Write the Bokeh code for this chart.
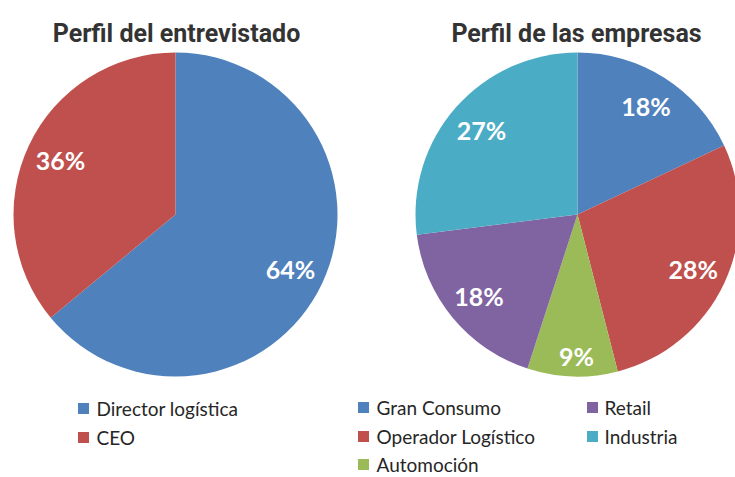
import numpy as np
from bokeh.plotting import figure
from bokeh.models import Range1d
from bokeh.embed import file_html
from bokeh.resources import INLINE
from bokeh.core.properties import value

# ---- data ----
left_title = "Perfil del entrevistado"
left_categories = ["Director logística", "CEO"]
left_values = [64, 36]

right_title = "Perfil de las empresas"
right_categories = ["Gran Consumo", "Operador Logístico", "Automoción", "Retail", "Industria"]
right_values = [18, 28, 9, 18, 27]

left_colors = ["#4F81BD", "#C0504D"]
right_colors = ["#4F81BD", "#C0504D", "#9BBB59", "#8064A2", "#4BACC6"]

# ---- layout (screen pixel coordinates) ----
W, H = 735, 477


def sy(y):
    return H - y


p = figure(width=W, height=H, x_range=Range1d(0, W), y_range=Range1d(0, H),
           output_backend="svg", toolbar_location=None, min_border=0)
p.axis.visible = False
p.grid.visible = False
p.outline_line_color = None
p.background_fill_color = "white"
p.border_fill_color = "white"


def pie(cx, cy, r, values, colors, label_r, nudges):
    vals = np.array(values, dtype=float)
    frac = vals / vals.sum()
    ends = np.cumsum(frac)
    starts = ends - frac
    sa = np.pi / 2 - 2 * np.pi * starts
    ea = np.pi / 2 - 2 * np.pi * ends
    p.wedge(x=cx, y=sy(cy), radius=r, start_angle=list(sa), end_angle=list(ea),
            direction="clock", fill_color=colors, line_color=None)
    mid = np.pi / 2 - 2 * np.pi * (starts + frac / 2)
    lx = cx + label_r * np.cos(mid) + np.array([n[0] for n in nudges])
    ly = sy(cy) + label_r * np.sin(mid) - np.array([n[1] for n in nudges])
    p.text(x=list(lx), y=list(ly), text=[f"{int(v)}%" for v in values],
           text_color="white", text_font=value("Lato"), text_font_style="bold",
           text_font_size="25px", text_align="center", text_baseline="middle")


pie(175, 214, 162, left_values, left_colors, 127, [(0, 0), (0, 0)])
pie(577, 214, 162, right_values, right_colors, 128,
    [(0, 0), (0, 0), (3, 14), (0, 0), (0, 0)])

# titles
p.text(x=[176, 576], y=[sy(33), sy(33)], text=[left_title, right_title],
       text_color="#333333", text_font=value("Roboto"), text_font_style="bold",
       text_font_size="25px", text_align="center", text_baseline="alphabetic")


def legend(items, colors, sq_x, txt_x, row_y):
    p.scatter(x=sq_x, y=[sy(y) for y in row_y], marker="square", size=11,
              fill_color=colors, line_color=None)
    p.text(x=txt_x, y=[sy(y) for y in row_y], text=items, text_color="#262626",
           text_font=value("Lato"), text_font_size="19px",
           text_align="left", text_baseline="middle")


legend(left_categories, left_colors, [83, 83], [96, 96], [408, 437])
legend(right_categories, right_colors,
       [363, 363, 363, 592, 592], [376, 376, 376, 604, 604],
       [407, 436, 464, 407, 436])

open("out.html", "w").write(file_html(p, INLINE))
